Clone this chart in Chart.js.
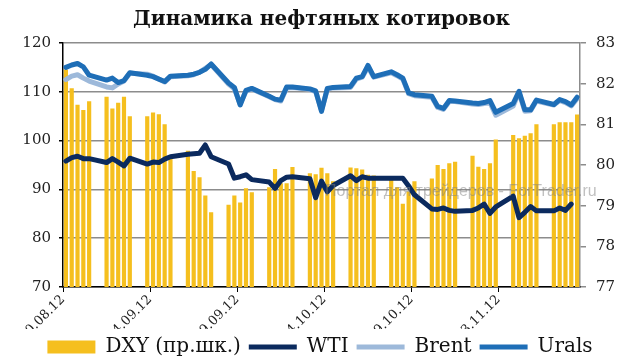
<!DOCTYPE html>
<html>
<head>
<meta charset="utf-8">
<script src="https://cdn.jsdelivr.net/npm/chart.js@4.4.1/dist/chart.umd.min.js"></script>
<style>
  html, body { margin: 0; padding: 0; background: #fff; }
  #wrap { width: 640px; height: 364px; }
</style>
</head>
<body>
<div id="wrap"><canvas id="chart"></canvas></div>
<script>
// calendar days 20.08.12 - 16.11.12, weekends empty
const days = [
    '20.08.12','21.08.12','22.08.12','23.08.12','24.08.12','25.08.12','26.08.12',
    '27.08.12','28.08.12','29.08.12','30.08.12','31.08.12','01.09.12','02.09.12',
    '03.09.12','04.09.12','05.09.12','06.09.12','07.09.12','08.09.12','09.09.12',
    '10.09.12','11.09.12','12.09.12','13.09.12','14.09.12','15.09.12','16.09.12',
    '17.09.12','18.09.12','19.09.12','20.09.12','21.09.12','22.09.12','23.09.12',
    '24.09.12','25.09.12','26.09.12','27.09.12','28.09.12','29.09.12','30.09.12',
    '01.10.12','02.10.12','03.10.12','04.10.12','05.10.12','06.10.12','07.10.12',
    '08.10.12','09.10.12','10.10.12','11.10.12','12.10.12','13.10.12','14.10.12',
    '15.10.12','16.10.12','17.10.12','18.10.12','19.10.12','20.10.12','21.10.12',
    '22.10.12','23.10.12','24.10.12','25.10.12','26.10.12','27.10.12','28.10.12',
    '29.10.12','30.10.12','31.10.12','01.11.12','02.11.12','03.11.12','04.11.12',
    '05.11.12','06.11.12','07.11.12','08.11.12','09.11.12','10.11.12','11.11.12',
    '12.11.12','13.11.12','14.11.12','15.11.12','16.11.12'
];

const dxy = [
    82.35, 81.89, 81.48, 81.35, 81.57, null, null,
    81.68, 81.39, 81.53, 81.68, 81.20, null, null,
    81.20, 81.29, 81.25, 81.00, 80.17, null, null,
    80.35, 79.85, 79.70, 79.25, 78.84, null, null,
    79.02, 79.25, 79.08, 79.43, 79.33, null, null,
    79.45, 79.90, 79.55, 79.55, 79.95, null, null,
    79.80, 79.77, 79.93, 79.80, 79.60, null, null,
    79.94, 79.92, 79.89, 79.76, 79.74, null, null,
    79.73, 79.45, 79.05, 79.35, 79.60, null, null,
    79.67, 80.00, 79.90, 80.04, 80.08, null, null,
    80.23, 79.96, 79.90, 80.04, 80.63, null, null,
    80.74, 80.66, 80.72, 80.78, 81.00, null, null,
    81.00, 81.05, 81.05, 81.05, 81.24
];

const wti = [
    95.8, 96.5, 96.8, 96.3, 96.3, null, null,
    95.5, 96.3, 95.6, 94.8, 96.4, null, null,
    95.2, 95.6, 95.5, 96.2, 96.7, null, null,
    97.2, 97.3, 97.4, 99.1, 96.7, null, null,
    95.2, 92.3, 92.6, 93.0, 92.0, null, null,
    91.5, 90.2, 91.8, 92.5, 92.6, null, null,
    92.2, 88.3, 91.7, 89.5, 90.8, null, null,
    92.8, 91.8, 92.6, 92.3, 92.3, null, null,
    92.3, 92.3, 92.3, 90.7, 88.9, null, null,
    86.0, 85.9, 86.2, 85.7, 85.5, null, null,
    85.7, 86.2, 87.0, 85.1, 86.4, null, null,
    88.6, 84.2, 85.3, 86.5, 85.6, null, null,
    85.6, 86.2, 85.7, 87.0, null
];

const brent = [
    112.5, 113.2, 113.5, 112.8, 112.2, null, null,
    111.0, 110.8, 111.6, 112.2, 113.8, null, null,
    113.6, 113.2, 112.6, 112.0, 113.1, null, null,
    113.3, 113.5, 114.0, 114.8, 115.6, null, null,
    111.6, 110.6, 107.5, 110.1, 110.6, null, null,
    109.0, 108.4, 108.1, 110.8, 110.9, null, null,
    110.5, 110.0, 106.2, 110.5, 110.8, null, null,
    110.9, 112.6, 113.0, 115.1, 113.0, null, null,
    113.9, 113.3, 112.6, 109.6, 109.2, null, null,
    108.9, 106.8, 106.4, 108.0, 108.0, null, null,
    107.5, 107.4, 107.6, 107.8, 105.2, null, null,
    107.1, 109.9, 106.0, 106.1, 108.1, null, null,
    107.3, 108.2, 107.8, 107.1, 108.6
];

const urals = [
    115.0, 115.5, 115.8, 115.1, 113.4, null, null,
    112.4, 112.8, 111.9, 112.3, 113.9, null, null,
    113.4, 113.1, 112.6, 112.1, 113.2, null, null,
    113.4, 113.6, 114.0, 114.6, 115.7, null, null,
    111.8, 110.9, 107.3, 110.3, 110.7, null, null,
    109.1, 108.5, 108.3, 111.0, 111.0, null, null,
    110.6, 110.2, 106.0, 110.7, 110.9, null, null,
    111.1, 112.8, 113.1, 115.4, 113.1, null, null,
    114.1, 113.5, 112.8, 109.8, 109.4, null, null,
    109.1, 107.0, 106.6, 108.2, 108.1, null, null,
    107.7, 107.6, 107.8, 108.2, 105.8, null, null,
    107.6, 110.1, 106.3, 106.3, 108.3, null, null,
    107.4, 108.4, 108.0, 107.3, 108.9
];

const seriesNames = ['DXY (пр.шк.)', 'WTI', 'Brent', 'Urals'];
const leftTicks = [70, 80, 90, 100, 110, 120];
const rightTicks = [77, 78, 79, 80, 81, 82, 83];

const serif = '"DejaVu Serif", serif';
const gridGrey = '#8c8c8c';

const watermark = {
    id: 'watermark',
    afterDraw(chart) {
        const ctx = chart.ctx;
        ctx.save();
        ctx.font = '16px "Liberation Sans", Arial, sans-serif';
        ctx.fillStyle = 'rgba(130, 130, 130, 0.5)';
        ctx.textAlign = 'left';
        ctx.textBaseline = 'middle';
        ctx.fillText('Портал для трейдеров - ForTrader.ru', 325, 192);
        ctx.restore();
    }
};

const ctx = document.getElementById('chart').getContext('2d');

let chart = new Chart(ctx, {
    data: {
        labels: days,
        datasets: [
            {
                type: 'bar',
                label: seriesNames[0],
                data: dxy,
                yAxisID: 'y1',
                backgroundColor: '#F5BF1E',
                borderWidth: 0,
                barPercentage: 0.72,
                categoryPercentage: 1.0,
                pointStyle: 'rect',
                order: 4
            },
            {
                type: 'line',
                label: seriesNames[1],
                data: wti,
                yAxisID: 'y',
                borderColor: '#0B2A5E',
                backgroundColor: '#0B2A5E',
                borderWidth: 5,
                borderCapStyle: 'round',
                borderJoinStyle: 'round',
                pointRadius: 0,
                pointStyle: 'line',
                spanGaps: true,
                order: 3
            },
            {
                type: 'line',
                label: seriesNames[2],
                data: brent,
                yAxisID: 'y',
                borderColor: '#9DB9DA',
                backgroundColor: '#9DB9DA',
                borderWidth: 5,
                borderCapStyle: 'round',
                borderJoinStyle: 'round',
                pointRadius: 0,
                pointStyle: 'line',
                spanGaps: true,
                order: 2
            },
            {
                type: 'line',
                label: seriesNames[3],
                data: urals,
                yAxisID: 'y',
                borderColor: '#1E6EB7',
                backgroundColor: '#1E6EB7',
                borderWidth: 5,
                borderCapStyle: 'round',
                borderJoinStyle: 'round',
                pointRadius: 0,
                pointStyle: 'line',
                spanGaps: true,
                order: 1
            }
        ]
    },
    options: {
        responsive: true,
        maintainAspectRatio: false,
        animation: false,
        layout: { padding: { left: 0, right: 0, top: 0, bottom: -3 } },
        scales: {
            x: {
                type: 'category',
                offset: true,
                afterFit: function(scale) { scale.height = 42; },
                grid: {
                    offset: true,
                    drawOnChartArea: false,
                    drawTicks: true,
                    tickLength: 5,
                    color: (c) => (c.index % 15 === 0 ? '#000' : 'rgba(0,0,0,0)')
                },
                border: { display: true, color: '#000', width: 1.5 },
                ticks: {
                    autoSkip: false,
                    maxRotation: 45,
                    minRotation: 45,
                    labelOffset: -3,
                    padding: 0,
                    color: '#222',
                    font: { family: serif, size: 13 },
                    callback: function(value, index) {
                        return index % 15 === 0 ? days[index] : '';
                    }
                }
            },
            y: {
                position: 'left',
                min: leftTicks[0],
                max: leftTicks[leftTicks.length - 1],
                afterFit: function(scale) { scale.width = 63; },
                afterBuildTicks: function(scale) {
                    scale.ticks = leftTicks.map(v => ({ value: v }));
                },
                grid: {
                    color: gridGrey,
                    lineWidth: 1.5,
                    tickLength: 4,
                    tickColor: '#000'
                },
                border: { display: true, color: '#000', width: 1.5 },
                ticks: {
                    padding: 8,
                    color: '#222',
                    font: { family: serif, size: 15 }
                }
            },
            y1: {
                position: 'right',
                min: rightTicks[0],
                max: rightTicks[rightTicks.length - 1],
                afterFit: function(scale) { scale.width = 60; },
                afterBuildTicks: function(scale) {
                    scale.ticks = rightTicks.map(v => ({ value: v }));
                },
                grid: {
                    drawOnChartArea: false,
                    tickLength: 6,
                    tickColor: gridGrey,
                    lineWidth: 1.5
                },
                border: { display: true, color: gridGrey, width: 1.5 },
                ticks: {
                    padding: 10,
                    color: '#222',
                    font: { family: serif, size: 15 }
                }
            }
        },
        plugins: {
            title: {
                display: true,
                fullSize: false,
                text: 'Динамика нефтяных котировок',
                color: '#111',
                font: { family: serif, size: 20, weight: 'bold', lineHeight: 1.2 },
                padding: { top: 8, bottom: 11 }
            },
            legend: {
                display: true,
                position: 'bottom',
                labels: {
                    usePointStyle: true,
                    pointStyleWidth: 48,
                    boxHeight: 13,
                    padding: 8,
                    color: '#111',
                    font: { family: serif, size: 20 },
                    sort: (a, b) => a.datasetIndex - b.datasetIndex
                }
            },
            tooltip: { enabled: false }
        }
    },
    plugins: [watermark]
});
</script>
</body>
</html>
